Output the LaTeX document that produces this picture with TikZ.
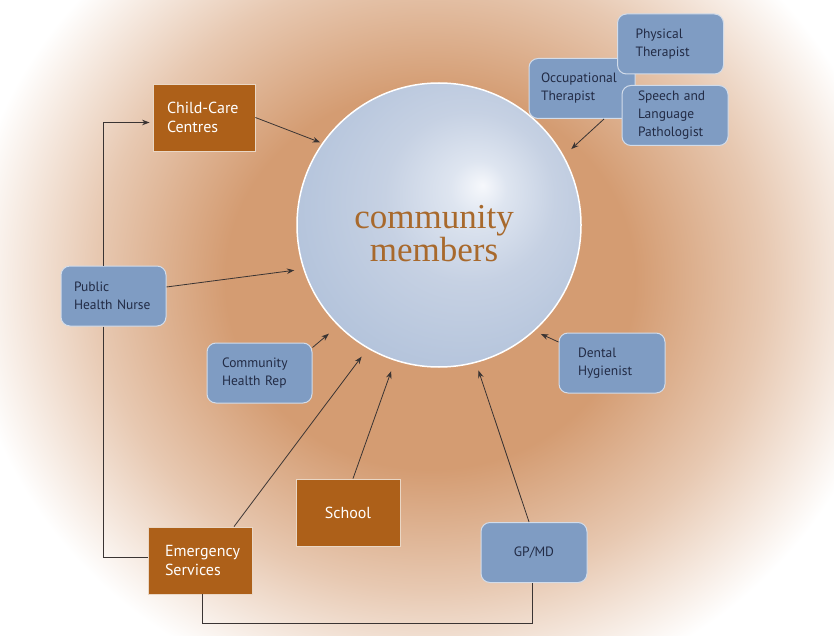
\documentclass[tikz,border=0pt]{standalone}
\usepackage{fontspec}
\setmainfont{PT Sans}
\newfontfamily\titlefont{Liberation Serif}
\usetikzlibrary{arrows.meta}
\definecolor{bgtan}{HTML}{D49C72}
\definecolor{boxorange}{HTML}{AD6019}
\definecolor{boxblue}{HTML}{7F9CC3}
\definecolor{txtblue}{HTML}{222B45}
\definecolor{linecol}{HTML}{3A3433}
\definecolor{sph0}{HTML}{F6F8FC}
\definecolor{sph1}{HTML}{DEE5F0}
\definecolor{sph2}{HTML}{C6D1E3}
\definecolor{sph3}{HTML}{B3C3DB}
\definecolor{titlecol}{HTML}{A8692C}
\pgfdeclareradialshading{glow}{\pgfpoint{0bp}{0bp}}{color(0bp)=(bgtan); color(11bp)=(bgtan); color(18bp)=(bgtan!55!white); color(25bp)=(white); color(50bp)=(white)}
\pgfdeclareradialshading{sphere}{\pgfpoint{7.7bp}{7bp}}{color(0bp)=(sph0); color(5bp)=(sph1); color(15bp)=(sph2); color(30bp)=(sph3); color(50bp)=(sph3)}
\tikzset{
  orangebox/.style={draw=white!75!boxorange, line width=0.8pt, fill=boxorange, text=white, font=\fontsize{16}{19}\selectfont, align=left, inner ysep=0pt, minimum height=67pt},
  bluebox/.style={draw=white!65!boxblue, line width=1pt, fill=boxblue, rounded corners=9pt, text=txtblue, font=\fontsize{13.5}{18}\selectfont, align=left, inner ysep=0pt, minimum height=60pt},
  arr/.style={draw=linecol, line width=0.8pt, -{Stealth[length=7.5pt,width=5.5pt]}},
  plain/.style={draw=linecol, line width=0.8pt}
}
\begin{document}
\begin{tikzpicture}[x=1pt,y=-1pt]
\useasboundingbox (0,0) rectangle (834,636);
\fill[white] (0,0) rectangle (834,636);
\begin{scope}
\clip (0,0) rectangle (834,636);
\shade[shading=glow] (430,280) ellipse [x radius=465pt, y radius=430pt];
\end{scope}

\node[circle, minimum size=284pt, inner sep=0pt, draw=white, line width=1.5pt, shade, shading=sphere] (cm) at (439,225) {};
\node[font=\titlefont\fontsize{35}{28}\selectfont, text=titlecol, align=center] (title) at (434,234) {community\\members};

% boxes
\node[bluebox, inner xsep=12pt, text width=82pt] (occ) at (582,88.5) {Occupational\\Therapist};
\node[bluebox, inner xsep=18pt, text width=70pt] (pt) at (670.5,44) {Physical\\Therapist};
\node[bluebox, inner xsep=16pt, text width=74pt] (slp) at (675,115.5) {Speech and\\Language\\Pathologist};
\node[orangebox, inner xsep=14pt, text width=74pt] (cc) at (204,117.5) {Child-Care\\Centres};
\node[bluebox, inner xsep=13pt, text width=79pt] (nurse) at (113.5,296) {Public\\Health Nurse};
\node[bluebox, inner xsep=15pt, text width=75pt] (chr) at (259.5,373) {Community\\Health Rep};
\node[bluebox, inner xsep=19pt, text width=68pt] (dental) at (612,363) {Dental\\Hygienist};
\node[orangebox, minimum width=104pt, inner xsep=0pt] (school) at (348,512.5) {School};
\node[orangebox, inner xsep=17pt, text width=70pt] (em) at (200,560.5) {Emergency\\Services};
\node[bluebox, minimum width=106pt, inner xsep=0pt] (gp) at (534,552.5) {GP/MD};

% arrows to the circle
\draw[arr, shorten >=2pt] (cc.east) -- (cm.145);
\draw[arr, shorten >=10pt] ([xshift=22pt]occ.south) -- (cm.29);
\draw[arr, shorten >=9pt] ([yshift=9pt]nurse.east) -- (cm.198);
\draw[arr, shorten >=12pt] ([yshift=-5pt]chr.north east) -- (cm.225);
\draw[arr, shorten >=10pt] ([xshift=34pt]em.north) -- (cm.240);
\draw[arr, shorten >=11pt] ([xshift=5pt]school.north) -- (cm.252);
\draw[arr, shorten >=8pt] ([xshift=-5pt]gp.north) -- (cm.285);
\draw[arr, shorten >=7pt] ([yshift=21pt]dental.west) -- (cm.312);

% elbow connectors
\draw[arr, shorten >=3pt] ([xshift=-10pt]nurse.north) |- ([yshift=-5pt]cc.west);
\draw[plain] ([xshift=-10pt]nurse.south) |- ([yshift=3.5pt]em.west);
\draw[plain] ([xshift=2pt]em.south) -- ++(0,29) -| ([xshift=-2pt]gp.south);
\end{tikzpicture}
\end{document}
